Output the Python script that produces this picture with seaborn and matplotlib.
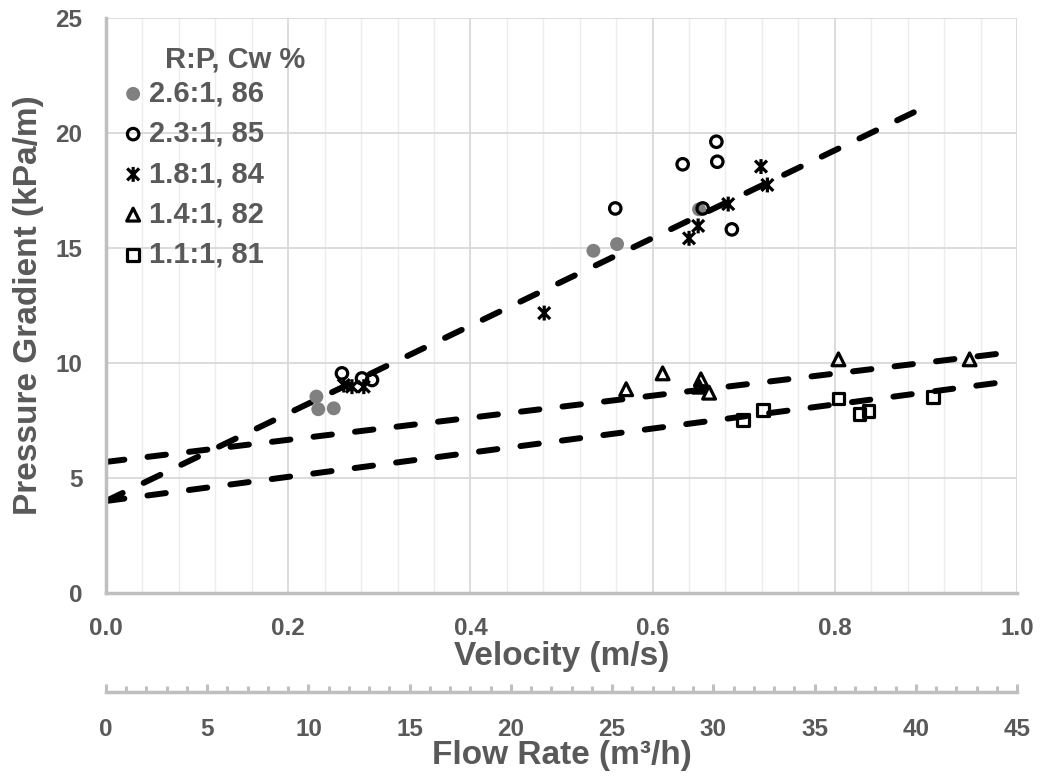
import numpy as np
import matplotlib
matplotlib.use("Agg")
import matplotlib.pyplot as plt
from matplotlib.path import Path
from matplotlib.ticker import MultipleLocator
import seaborn as sns

# velocity (m/s) vs pressure gradient (kPa/m)
v_26 = [0.231, 0.233, 0.250, 0.535, 0.561, 0.651]
dp_26 = [8.54, 7.99, 8.03, 14.88, 15.17, 16.68]

v_23 = [0.259, 0.281, 0.292, 0.559, 0.633, 0.670, 0.671, 0.655, 0.687]
dp_23 = [9.55, 9.33, 9.26, 16.72, 18.64, 19.62, 18.75, 16.72, 15.81]

v_18 = [0.261, 0.270, 0.283, 0.481, 0.640, 0.650, 0.683, 0.719, 0.726]
dp_18 = [9.04, 8.97, 8.97, 12.17, 15.42, 15.96, 16.91, 18.54, 17.74]

v_14 = [0.571, 0.611, 0.651, 0.653, 0.662, 0.804, 0.948]
dp_14 = [8.86, 9.55, 8.97, 9.29, 8.71, 10.16, 10.16]

v_11 = [0.699, 0.721, 0.804, 0.827, 0.837, 0.908]
dp_11 = [7.52, 7.96, 8.46, 7.78, 7.93, 8.51]

labels = ["2.6:1, 86", "2.3:1, 85", "1.8:1, 84", "1.4:1, 82", "1.1:1, 81"]

# dashed trend lines (end points)
trend_hi_x = [0.0, 0.892]
trend_hi_y = [4.0, 21.0]
trend_mid_x = [0.0, 1.0]
trend_mid_y = [5.7, 10.5]
trend_lo_x = [0.0, 1.0]
trend_lo_y = [4.0, 9.25]

flow_max = 45  # m3/h at 1.0 m/s
flow_ticks = list(range(0, 46, 5))

sns.set_style("white")
plt.rcParams["font.family"] = ["Liberation Sans", "DejaVu Sans"]
plt.rcParams["font.weight"] = "bold"
plt.rcParams["axes.labelweight"] = "bold"
txt = "#595959"
axc = "#BFBFBF"

fig = plt.figure(figsize=(10.42, 7.76), dpi=100)
ax = fig.add_axes([106 / 1042, (776 - 593) / 776, (1017 - 106) / 1042, (593 - 18) / 776])

dash = dict(color="black", lw=4.3, linestyle=(0, (3.1, 3.9)), dash_capstyle="round")
for tx, ty in [(trend_hi_x, trend_hi_y), (trend_mid_x, trend_mid_y), (trend_lo_x, trend_lo_y)]:
    sns.lineplot(x=tx, y=ty, ax=ax, **dash)

star = Path([(-1, -1), (1, 1), (-1, 1), (1, -1), (0, -1.25), (0, 1.25)],
            [Path.MOVETO, Path.LINETO] * 3)

open_kw = dict(facecolor="none", edgecolor="black", linewidth=2.3, zorder=3)
sns.scatterplot(x=v_26, y=dp_26, marker="o", s=100, color="#808080", edgecolor="none",
                label=labels[0], ax=ax, zorder=3)
sns.scatterplot(x=v_23, y=dp_23, marker="o", s=68, label=labels[1], ax=ax, **open_kw)
sns.scatterplot(x=v_18, y=dp_18, marker=star, s=115, label=labels[2], ax=ax, **open_kw)
sns.scatterplot(x=v_14, y=dp_14, marker="^", s=85, label=labels[3], ax=ax, **open_kw)
sns.scatterplot(x=v_11, y=dp_11, marker="s", s=72, label=labels[4], ax=ax, **open_kw)

ax.set_xlim(0, 1.0)
ax.set_ylim(0, 25)
ax.xaxis.set_minor_locator(MultipleLocator(0.04))
ax.yaxis.set_major_locator(MultipleLocator(5))
ax.yaxis.set_minor_locator(MultipleLocator(1))
ax.set_xticks(np.arange(0, 1.01, 0.2))
ax.set_xticklabels([f"{t:.1f}" for t in np.arange(0, 1.01, 0.2)])

ax.grid(which="major", color="#D9D9D9", lw=1.3)
ax.grid(which="minor", axis="x", color="#EDEDED", lw=1)
ax.set_axisbelow(True)

for s in ["top", "right"]:
    ax.spines[s].set_visible(False)
for s in ["left", "bottom"]:
    ax.spines[s].set_color(axc)
    ax.spines[s].set_linewidth(2.5)

ax.tick_params(which="both", direction="in", color=axc, width=2.2,
               labelsize=17.5, labelcolor=txt)
ax.tick_params(which="major", length=6)
ax.tick_params(which="minor", length=4)
ax.tick_params(axis="x", pad=17)
ax.tick_params(axis="y", pad=17)

ax.set_xlabel("Velocity (m/s)", fontsize=24, color=txt, labelpad=1)
ax.set_ylabel("Pressure Gradient (kPa/m)", fontsize=24, color=txt, labelpad=8)

# flow rate axis under the velocity axis
sec = ax.secondary_xaxis("bottom", functions=(lambda v: v * flow_max, lambda q: q / flow_max))
sec.spines["bottom"].set_position(("outward", 71))
sec.spines["bottom"].set_color(axc)
sec.spines["bottom"].set_linewidth(2.5)
sec.set_xticks(flow_ticks)
sec.xaxis.set_minor_locator(MultipleLocator(1))
sec.tick_params(which="both", direction="in", color=axc, width=2.2,
                labelsize=17.5, labelcolor=txt, pad=19)
sec.tick_params(which="major", length=6)
sec.tick_params(which="minor", length=4)
sec.set_xlabel("Flow Rate (m³/h)", fontsize=24, color=txt, labelpad=-1)

leg = ax.legend(loc="upper left", bbox_to_anchor=(0.017, 0.893), frameon=False,
                borderpad=0, borderaxespad=0, handlelength=0.8, handletextpad=0.15,
                labelspacing=0.42, prop={"size": 21, "weight": "bold"})
for t in leg.get_texts():
    t.set_color(txt)
ax.text(0.065, 0.927, "R:P, Cw %", transform=ax.transAxes, fontsize=21,
        color=txt, ha="left", va="center")

fig.savefig("out.png", dpi=100)
